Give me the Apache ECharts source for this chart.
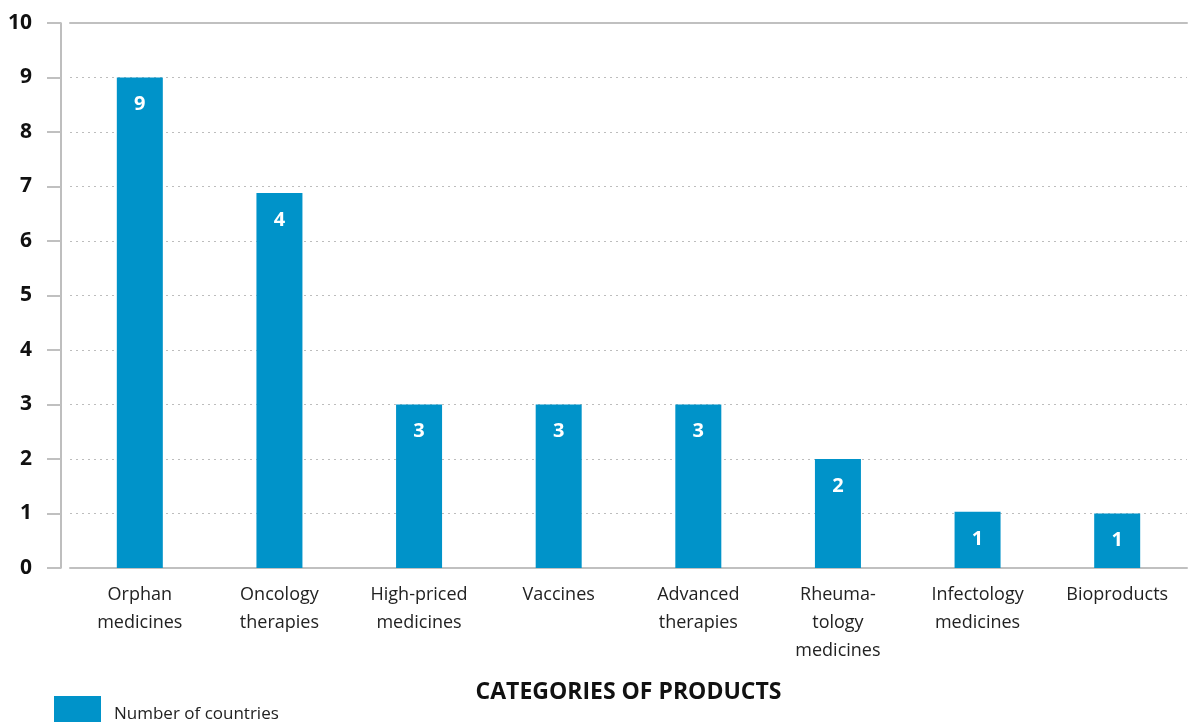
<!DOCTYPE html>
<html><head><meta charset="utf-8">
<script src="https://cdn.jsdelivr.net/npm/echarts@6/dist/echarts.min.js"></script>
<style>html,body{margin:0;padding:0;background:#fff}#c{width:1192px;height:722px}</style>
</head><body><div id="c"></div>
<script>
const categories = ["Orphan\nmedicines","Oncology\ntherapies","High-priced\nmedicines","Vaccines","Advanced\ntherapies","Rheuma-\ntology\nmedicines","Infectology\nmedicines","Bioproducts"];
const barValues = [9, 6.88, 3, 3, 3, 2, 1.03, 1.0];
const barLabels = ["9","4","3","3","3","2","1","1"];
const yTicks = [0,1,2,3,4,5,6,7,8,9,10];
const seriesName = "Number of countries";
const axisTitle = "CATEGORIES OF PRODUCTS";

const FONT = "'Open Sans', 'Noto Sans', sans-serif";
const chart = echarts.init(document.getElementById('c'));
chart.setOption({
  animation: false,
  textStyle: {fontFamily: FONT},
  grid: {left: 70, right: 5, top: 23, bottom: 154, containLabel: false},
  legend: {
    left: 49, top: 691, itemWidth: 47, itemHeight: 36, itemGap: 10,
    icon: 'rect',
    textStyle: {fontSize: 17, color: '#222', fontFamily: FONT, padding: [0,0,0,8]},
    data: [seriesName]
  },
  xAxis: [{
    type: 'category', data: categories,
    axisLine: {show: true, lineStyle: {color: '#c0c0c0', width: 2}},
    axisTick: {show: false},
    axisLabel: {fontSize: 18, color: '#222', lineHeight: 28, margin: 13, interval: 0, fontFamily: FONT},
    name: axisTitle, nameLocation: 'middle', nameGap: 113,
    nameTextStyle: {fontSize: 23, fontWeight: 'bold', color: '#111', fontFamily: FONT}
  },{
    type: 'category', data: categories, position: 'top',
    axisLine: {show: true, lineStyle: {color: '#c0c0c0', width: 2}},
    axisTick: {show: false}, axisLabel: {show: false}
  }],
  yAxis: {
    type: 'value', min: yTicks[0], max: yTicks[yTicks.length-1], interval: 1,
    offset: 9,
    axisLine: {show: true, lineStyle: {color: '#a8a8a8', width: 1.5}},
    axisTick: {show: true, length: 14, lineStyle: {color: '#c0c0c0', width: 2}},
    axisLabel: {fontSize: 21, fontWeight: 'bold', color: '#111', margin: 29, fontFamily: FONT},
    splitLine: {show: true, lineStyle: {color: '#bdbdbd', type: [2,4], width: 1}}
  },
  series: [{
    name: seriesName, type: 'bar', data: barValues, barWidth: 46,
    itemStyle: {color: '#0093C9'},
    label: {
      show: true, position: 'insideTop', distance: 17,
      formatter: p => barLabels[p.dataIndex],
      color: '#fff', fontWeight: 'bold', fontSize: 20, fontFamily: FONT
    }
  }]
});
</script></body></html>
